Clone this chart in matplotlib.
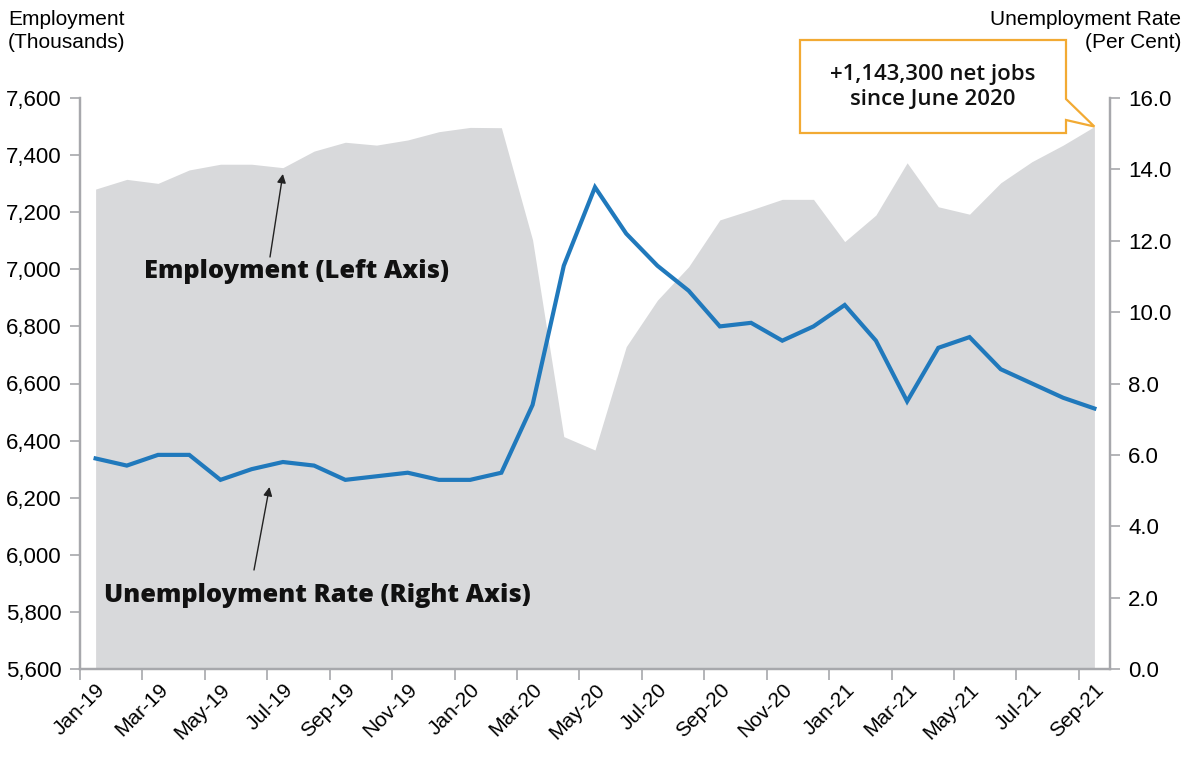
import matplotlib
matplotlib.use("Agg")
import matplotlib.pyplot as plt
from matplotlib.patches import Polygon
from matplotlib.ticker import FuncFormatter, FixedLocator
import numpy as np

months = ["Jan-19", "Feb-19", "Mar-19", "Apr-19", "May-19", "Jun-19", "Jul-19", "Aug-19",
          "Sep-19", "Oct-19", "Nov-19", "Dec-19", "Jan-20", "Feb-20", "Mar-20", "Apr-20",
          "May-20", "Jun-20", "Jul-20", "Aug-20", "Sep-20", "Oct-20", "Nov-20", "Dec-20",
          "Jan-21", "Feb-21", "Mar-21", "Apr-21", "May-21", "Jun-21", "Jul-21", "Aug-21", "Sep-21"]
employment = [7281, 7315, 7301, 7348, 7368, 7368, 7356, 7414, 7445, 7435, 7453, 7482, 7497, 7496,
              7103, 6414, 6367, 6729, 6892, 7009, 7173, 7208, 7245, 7245,
              7097, 7190, 7373, 7219, 7193, 7303, 7377, 7435, 7500]
unemployment = [5.9, 5.7, 6.0, 6.0, 5.3, 5.6, 5.8, 5.7, 5.3, 5.4, 5.5, 5.3, 5.3, 5.5,
                7.4, 11.3, 13.5, 12.2, 11.3, 10.6, 9.6, 9.7, 9.2, 9.6,
                10.2, 9.2, 7.5, 9.0, 9.3, 8.4, 8.0, 7.6, 7.3]
left_ticks = [5600, 5800, 6000, 6200, 6400, 6600, 6800, 7000, 7200, 7400, 7600]
right_ticks = [0, 2, 4, 6, 8, 10, 12, 14, 16]

W, H = 1189, 762
fig = plt.figure(figsize=(W / 100, H / 100), dpi=100)
ax = fig.add_axes([80 / W, 1 - 669 / H, (1110 - 80) / W, (669 - 98) / H])
ax2 = ax.twinx()

tfam = ["Liberation Sans"]
tsize = 15
spine_col = "#A7A8AC"
fill_col = "#D8D9DB"
blue = "#2079BC"
orange = "#F2AA33"

x = np.arange(len(months))
ax.fill_between(x, 5600, employment, color=fill_col, lw=0, zorder=1)
ax.set_ylim(5600, 7600)
ax.set_xlim(-0.5, len(months) - 0.5)
ax2.plot(x, unemployment, color=blue, lw=3.0, zorder=3, solid_joinstyle="miter")
ax2.set_ylim(0, 16)

ax.set_yticks(left_ticks)
ax.yaxis.set_major_formatter(FuncFormatter(lambda v, p: f"{int(v):,}"))
ax2.set_yticks(right_ticks)
ax2.yaxis.set_major_formatter(FuncFormatter(lambda v, p: f"{v:.1f}"))

# x ticks: marks at category boundaries, labels at every other month
ax.xaxis.set_major_locator(FixedLocator(np.arange(-0.5, len(months), 2)))
ax.xaxis.set_minor_locator(FixedLocator(x[::2]))
ax.set_xticklabels([])
ax.xaxis.set_minor_formatter(FuncFormatter(lambda v, p: months[int(round(v))]))
ax.tick_params(axis="x", which="minor", length=0, pad=8)
ax.tick_params(axis="x", which="major", length=8, color=spine_col, width=1.2, direction="out")
for lab in ax.xaxis.get_minorticklabels():
    lab.set_rotation(45)
    lab.set_ha("right")
    lab.set_rotation_mode("anchor")
    lab.set_fontfamily(tfam)
    lab.set_fontsize(tsize)

ax.tick_params(axis="y", length=7, color=spine_col, width=1.2, direction="out", pad=6)
ax2.tick_params(axis="y", length=7, color=spine_col, width=1.2, direction="out", pad=6)
for lab in ax.get_yticklabels() + ax2.get_yticklabels():
    lab.set_fontfamily(tfam)
    lab.set_fontsize(tsize + 1)

for a in (ax, ax2):
    a.spines["top"].set_visible(False)
    for s in ("left", "right", "bottom"):
        a.spines[s].set_color(spine_col)
        a.spines[s].set_linewidth(1.6)
ax.set_zorder(1)
ax2.set_zorder(2)
ax2.patch.set_visible(False)

# axis titles
fig.text(8 / W, 1 - 10 / H, "Employment\n(Thousands)", ha="left", va="top",
         family=tfam, fontsize=tsize, linespacing=1.3)
fig.text(1181 / W, 1 - 10 / H, "Unemployment Rate\n(Per Cent)", ha="right", va="top",
         family=tfam, fontsize=tsize, linespacing=1.3, multialignment="right")

# series labels with arrows
lab_font = dict(family=["Open Sans", "DejaVu Sans"], fontweight="heavy", fontsize=18.3, color="#111111")
arrow = dict(arrowstyle="-|>", color="#222222", lw=1, mutation_scale=13, shrinkA=0, shrinkB=0)
fig.text(297 / W, 1 - 272 / H, "Employment (Left Axis)", ha="center", va="center", zorder=5, **lab_font)
fig.text(317 / W, 1 - 595 / H, "Unemployment Rate (Right Axis)", ha="center", va="center", zorder=5, **lab_font)
ax.annotate("", xy=(6.0, 7334), xycoords="data", xytext=(270, H - 257),
            textcoords="figure pixels", arrowprops=arrow, zorder=5)
ax2.annotate("", xy=(5.57, 5.10), xycoords="data", xytext=(254, H - 570),
             textcoords="figure pixels", arrowprops=arrow, zorder=5)

# callout box
tip = ax.transData.transform((len(months) - 1, employment[-1]))
verts = [(800, H - 40), (1066, H - 40), (1066, H - 99), (tip[0], tip[1]),
         (1066, H - 120), (1066, H - 133), (800, H - 133)]
poly = Polygon(verts, closed=True, transform=None, facecolor="white",
               edgecolor=orange, lw=1.6, zorder=10)
fig.patches.append(poly)
fig.text(933 / W, 1 - 87 / H, "+1,143,300 net jobs\nsince June 2020", ha="center", va="center",
         family=["Open Sans", "DejaVu Sans"], fontsize=16, fontweight="semibold", linespacing=1.3,
         color="#111111", zorder=11)

fig.savefig("out.png", dpi=100)
